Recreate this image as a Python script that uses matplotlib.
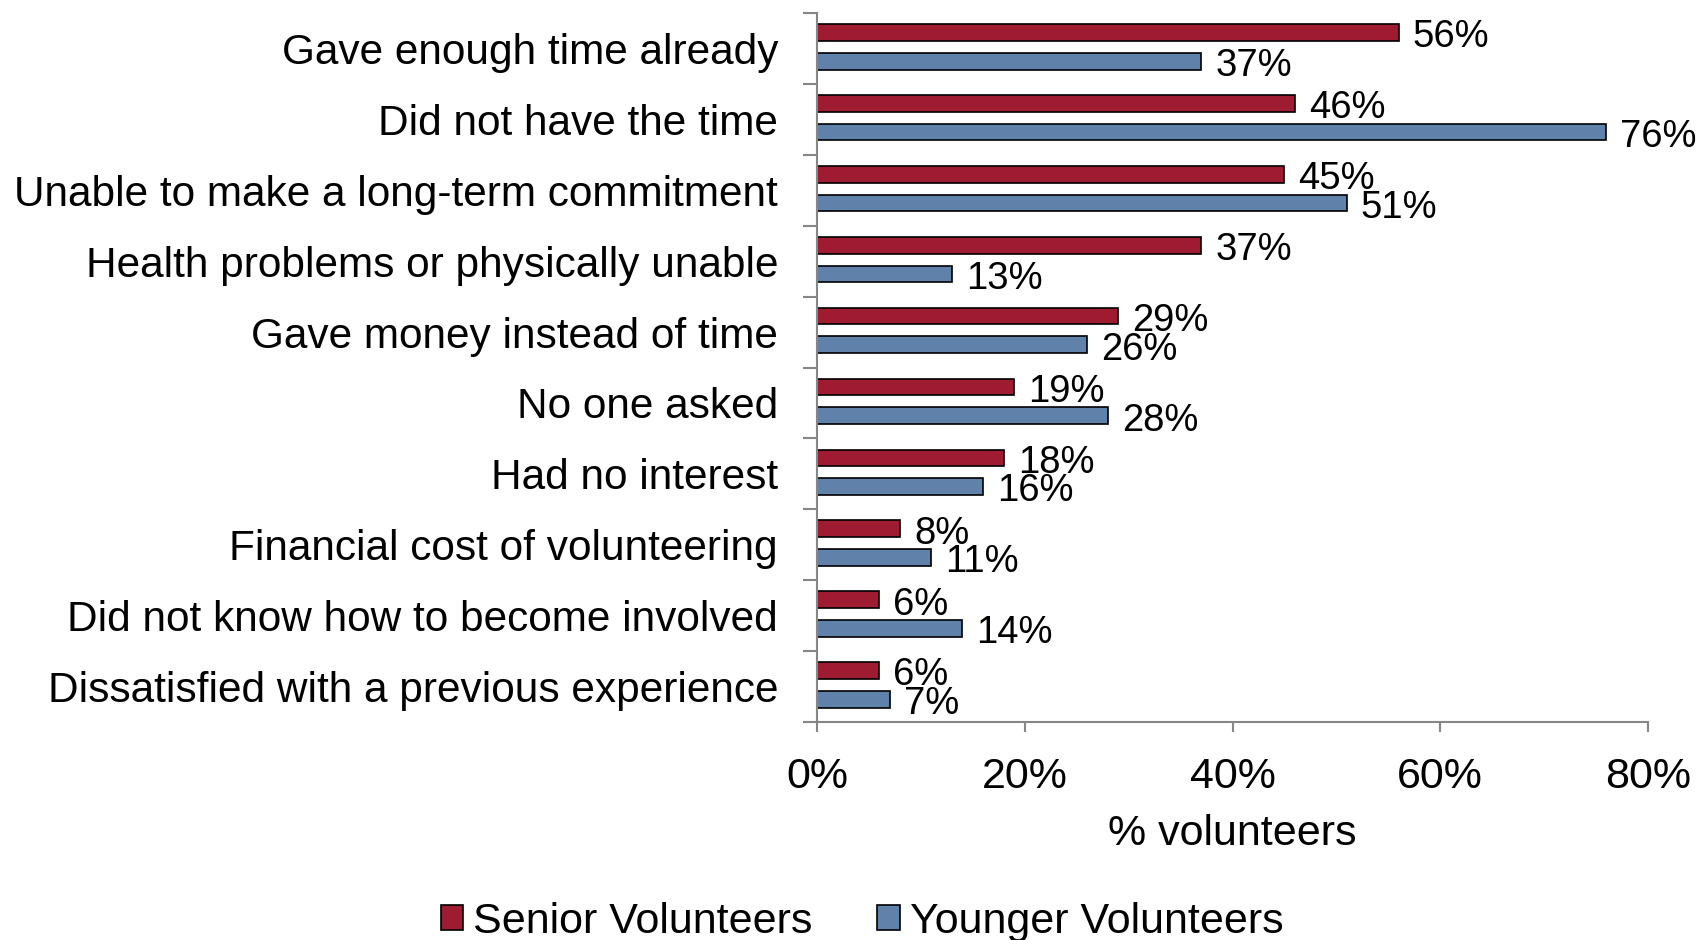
import matplotlib
matplotlib.use("Agg")
import matplotlib.pyplot as plt
from matplotlib.patches import Patch
import numpy as np

plt.rcParams['font.family'] = ['Liberation Sans', 'DejaVu Sans']

categories = [
    "Gave enough time already",
    "Did not have the time",
    "Unable to make a long-term commitment",
    "Health problems or physically unable",
    "Gave money instead of time",
    "No one asked",
    "Had no interest",
    "Financial cost of volunteering",
    "Did not know how to become involved",
    "Dissatisfied with a previous experience",
]
senior = [56, 46, 45, 37, 29, 19, 18, 8, 6, 6]
younger = [37, 76, 51, 13, 26, 28, 16, 11, 14, 7]
series_names = ["Senior Volunteers", "Younger Volunteers"]
x_ticks = [0, 20, 40, 60, 80]
x_label = "% volunteers"

red = "#9E1B32"
blue = "#6081A9"
gray = "#868686"

fig = plt.figure(figsize=(17.02, 9.40), dpi=100)
ax = fig.add_axes([817/1702, 1 - 722/940, (1648 - 817)/1702, (722 - 13)/940])

y = np.arange(len(categories))
h = 0.235
ax.barh(y - 0.225, senior, height=h, color=red, edgecolor="black", linewidth=1.2)
ax.barh(y + 0.18, younger, height=h, color=blue, edgecolor="black", linewidth=1.2)

fs_val = 27.5
fs_cat = 30.5
fs_tick = 31
fs_lab = 31
fs_leg = 31
for yi, v in zip(y - 0.225, senior):
    ax.annotate(f"{v}%", (v, yi), xytext=(10, -3.5), textcoords="offset points",
                va="center", ha="left", fontsize=fs_val)
for yi, v in zip(y + 0.18, younger):
    ax.annotate(f"{v}%", (v, yi), xytext=(10, -3.5), textcoords="offset points",
                va="center", ha="left", fontsize=fs_val)

ax.set_xlim(0, 80)
ax.set_ylim(len(categories) - 0.5, -0.5)
ax.set_xticks(x_ticks)
ax.set_xticklabels([f"{t}%" for t in x_ticks], fontsize=fs_tick)
ax.set_yticks(y)
ax.set_yticklabels(categories, fontsize=fs_cat)
ax.set_yticks(np.arange(len(categories) + 1) - 0.5, minor=True)
ax.tick_params(axis="y", which="major", length=0, pad=28)
ax.tick_params(axis="y", which="minor", length=10, width=1.5, color=gray, direction="out")
ax.tick_params(axis="x", which="major", length=7, width=1.5, color=gray, direction="out", pad=18.5)

for s in ["top", "right"]:
    ax.spines[s].set_visible(False)
for s in ["left", "bottom"]:
    ax.spines[s].set_color(gray)
    ax.spines[s].set_linewidth(1.5)

ax.set_xlabel(x_label, fontsize=fs_lab, labelpad=12)

handles = [Patch(facecolor=red, edgecolor="black", linewidth=1.2),
           Patch(facecolor=blue, edgecolor="black", linewidth=1.2)]
fig.legend(handles, series_names, loc="center", bbox_to_anchor=(0.5065, 1 - 922/940),
           ncol=2, frameon=False, fontsize=fs_leg, handlelength=0.53, handleheight=0.53,
           handletextpad=0.23, columnspacing=1.5, borderpad=0, borderaxespad=0)

fig.savefig("out.png", dpi=100)
